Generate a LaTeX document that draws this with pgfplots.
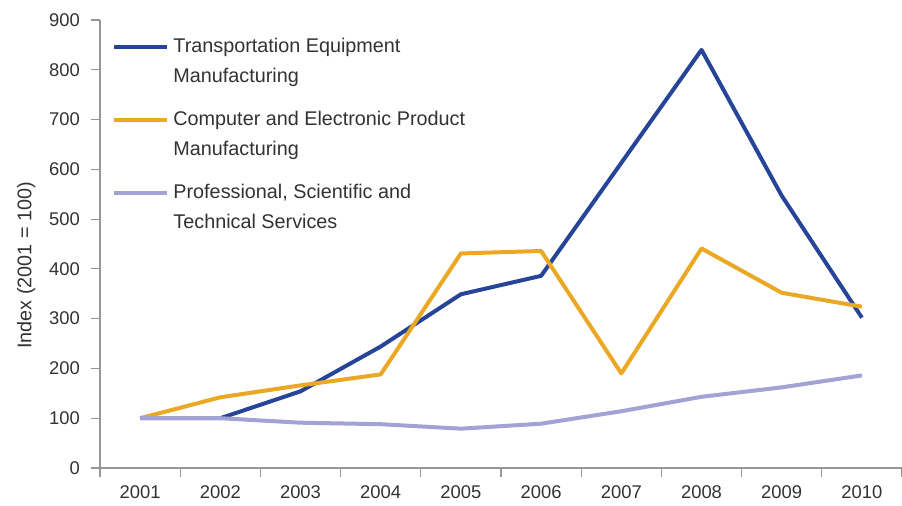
\documentclass[border=0pt]{standalone}
\usepackage{pgfplots}
\pgfplotsset{compat=1.18}
\usepackage{fontspec}
\setmainfont{Liberation Sans}
\usetikzlibrary{calc}
\definecolor{tblue}{RGB}{38,68,152}
\definecolor{torange}{RGB}{234,168,36}
\definecolor{tpurple}{RGB}{162,162,212}
\definecolor{axgray}{RGB}{150,150,150}
\definecolor{txt}{RGB}{50,50,50}
\begin{document}
\begin{tikzpicture}
\begin{axis}[
  scale only axis, width=401pt, height=224pt,
  xmin=0.5, xmax=10.5, ymin=0, ymax=900,
  axis lines*=left,
  axis line style={axgray, line width=0.6pt},
  xtick={0.5,1.5,...,10.5},
  x tick label as interval,
  xticklabels={2001,2002,2003,2004,2005,2006,2007,2008,2009,2010},
  ytick={0,100,...,900},
  tick align=outside, major tick length=4.5pt,
  tick style={axgray, line width=0.6pt},
  /pgf/number format/assume math mode=true,
  tick label style={font=\fontsize{9.2}{11}\selectfont, text=txt},
  yticklabel style={xshift=-2pt},
  xticklabel style={yshift=-0.8pt},
  ylabel={Index (2001 = 100)},
  ylabel style={font=\fontsize{9.9}{11}\selectfont, text=txt, at={(ticklabel cs:0.49)}, xshift=-8.5pt},
  legend style={draw=none, fill=none, at={(axis cs:0.65,900)}, anchor=north west,
    yshift=-7pt,
    font=\fontsize{9.9}{15}\selectfont, text=txt,
    cells={align=left, anchor=west}, row sep=8.7pt, inner sep=0pt},
  legend image code/.code={\draw[#1, line width=2pt] (0cm,7.5pt) -- (26.5pt,7.5pt);},
  every axis plot/.append style={line width=2pt, line join=round},
]
\addplot[tblue] coordinates {(1,100) (2,100) (3,154) (4,244) (5,349) (6,386) (7,613) (8,840) (9,547) (10,302)};
\addlegendentry{Transportation Equipment\\Manufacturing}
\addplot[torange] coordinates {(1,100) (2,142) (3,166) (4,188) (5,431) (6,436) (7,190) (8,441) (9,352) (10,324)};
\addlegendentry{Computer and Electronic Product\\Manufacturing}
\addplot[tpurple] coordinates {(1,100) (2,100) (3,91) (4,88) (5,79) (6,89) (7,114) (8,143) (9,162) (10,186)};
\addlegendentry{Professional, Scientific and\\Technical Services}
\end{axis}
\pgfresetboundingbox
\path[use as bounding box] ($(current axis.south west)+(-50pt,-19pt)$) rectangle ($(current axis.north east)+(0pt,10pt)$);
\end{tikzpicture}
\end{document}
